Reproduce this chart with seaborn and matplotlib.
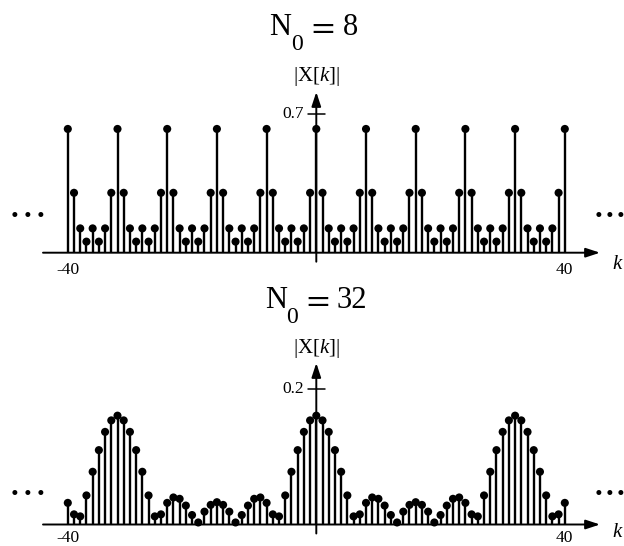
import numpy as np
import pandas as pd
import seaborn as sns
import matplotlib
matplotlib.use('Agg')
import matplotlib.pyplot as plt

# индексы k и один период |X[k]| для каждого N0
k = np.arange(-40, 41)
period_8 = [0.626, 0.303, 0.123, 0.056, 0.123, 0.056, 0.123, 0.303]
period_32 = [0.161, 0.154, 0.137, 0.110, 0.078, 0.043, 0.012, 0.015,
             0.032, 0.040, 0.038, 0.028, 0.014, 0.003, 0.019, 0.029,
             0.033, 0.029, 0.019, 0.003, 0.014, 0.028, 0.038, 0.040,
             0.032, 0.015, 0.012, 0.043, 0.078, 0.110, 0.137, 0.154]
n0_values = ['8', '32']
tick_vals = [0.7, 0.2]
tick_labels = ['0.7', '0.2']

sns.set_theme(style='white')
plt.rcParams['font.family'] = ['Liberation Serif', 'DejaVu Serif']
plt.rcParams['text.color'] = 'black'
plt.rcParams['mathtext.fontset'] = 'custom'
plt.rcParams['mathtext.rm'] = 'Liberation Serif'
plt.rcParams['mathtext.it'] = 'Liberation Serif:italic'

W, H = 624, 546
PX_K = 6.2125      # пикселей на один отсчёт k
X0 = 316.3         # пиксель k = 0


def px_to_k(px):
    return (px - X0) / PX_K


fig = plt.figure(figsize=(W / 100, H / 100), dpi=100)


def draw_panel(ax, mag, n0, tick_val, tick_label, baseline, scale, row0, row1,
               ylab_y, title_x, title_y, k_dy, lab_dy, dots_y):
    def py(px):
        return (baseline - px) / scale

    ax.set_xlim(px_to_k(0), px_to_k(W))
    ax.set_ylim(py(row1), py(row0))
    ax.axis('off')

    df = pd.DataFrame({'k': k, 'mag': mag})
    ax.vlines(df['k'], 0, df['mag'], color='black', lw=1.7, zorder=2)
    sns.scatterplot(data=df, x='k', y='mag', ax=ax, color='black', s=34,
                    edgecolor='none', zorder=3, legend=False)

    # оси со стрелками
    arrow = dict(arrowstyle='-|>,head_length=0.85,head_width=0.28',
                 color='black', lw=1.4, mutation_scale=10, shrinkA=0, shrinkB=0)
    ax.annotate('', xy=(px_to_k(600), 0), xytext=(px_to_k(43), 0), arrowprops=arrow)
    ax.annotate('', xy=(0, py(ylab_y + 15)), xytext=(0, py(baseline + 9)), arrowprops=arrow)
    ax.plot([-1.4, 1.4], [tick_val, tick_val], color='black', lw=1.1)
    ax.text(px_to_k(304), tick_val, tick_label, ha='right', va='center', fontsize=12.5)

    ax.text(-40, py(baseline + lab_dy), '-40', ha='center', va='top', fontsize=12.5)
    ax.text(40, py(baseline + lab_dy), '40', ha='center', va='top', fontsize=12.5)
    ax.text(px_to_k(618), py(baseline + k_dy), r'$k$', ha='center', va='center', fontsize=15)
    ax.text(0, py(ylab_y), r'$|\mathrm{X}[k]|$', ha='center', va='center', fontsize=15)

    # заголовок N0 = ... собран из кусков, чтобы индекс сидел низко
    xN, xsub, xeq, xnum = title_x
    ax.text(px_to_k(xN), py(title_y), 'N', ha='left', va='baseline', fontsize=22)
    ax.text(px_to_k(xsub), py(title_y + 14.5), '0', ha='left', va='baseline', fontsize=17)
    ax.text(px_to_k(xeq), py(title_y), r'$=$', ha='left', va='baseline', fontsize=24,
            math_fontfamily='stix')
    ax.text(px_to_k(xnum), py(title_y), n0, ha='left', va='baseline', fontsize=22)

    # многоточия слева и справа
    for xc in (14, 27.5, 40, 598, 609.5, 621):
        ax.text(px_to_k(xc), py(dots_y), '.', ha='center', va='baseline',
                fontsize=22, fontweight='bold')


ax_top = fig.add_axes([0, 0.5, 1, 0.5])
draw_panel(ax_top, np.array(period_8)[k % 8], n0_values[0], tick_vals[0], tick_labels[0],
           baseline=252.7, scale=197.7, row0=0, row1=273,
           ylab_y=77, title_x=(269, 291, 307, 343), title_y=35,
           k_dy=12, lab_dy=9, dots_y=217)

ax_bot = fig.add_axes([0, 0, 1, 0.5])
draw_panel(ax_bot, np.array(period_32)[k % 32], n0_values[1], tick_vals[1], tick_labels[1],
           baseline=524.5, scale=676.0, row0=273, row1=546,
           ylab_y=348, title_x=(265, 286, 302, 337), title_y=308.5,
           k_dy=8, lab_dy=6, dots_y=495)

fig.savefig('out.png', dpi=100, facecolor='white')
plt.close(fig)
